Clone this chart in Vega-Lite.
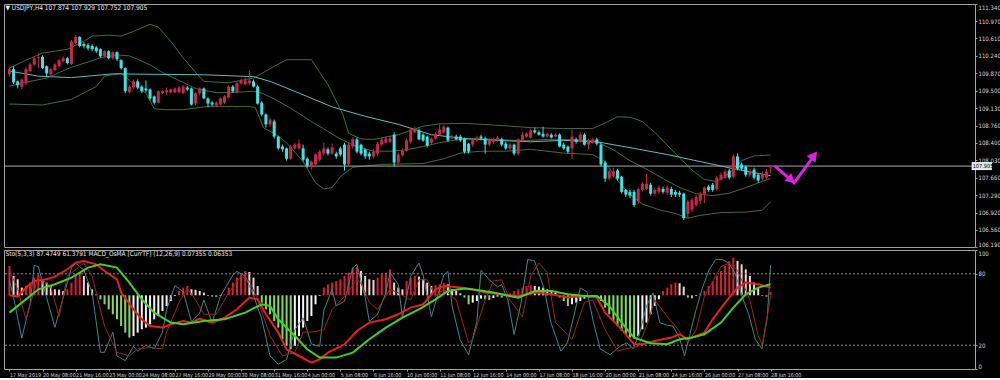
{
"$schema": "https://vega.github.io/schema/vega-lite/v6.json",
"background": "#000000",
"padding": {"left": 3, "top": 3, "right": 0, "bottom": 0},
"spacing": 3,
"bounds": "flush",
"config": {
  "view": {"stroke": "#a0a0a0", "strokeWidth": 1},
  "axis": {"labelColor": "#d8d8d8", "labelFont": "Liberation Sans Narrow, Arial Narrow, DejaVu Sans Condensed, Liberation Sans, sans-serif", "labelFontSize": 6, "tickColor": "#a0a0a0", "tickSize": 2, "domain": false, "grid": false, "labelPadding": 1, "labelOverlap": false},
  "title": {"color": "#e8e8e8", "font": "Liberation Sans Narrow, Arial Narrow, DejaVu Sans Condensed, Liberation Sans, sans-serif", "fontSize": 6.5, "fontWeight": "normal", "anchor": "start"}
},
"datasets": {
  "candles": [
    {"i":0,"o":109.85,"h":110.00,"l":109.80,"c":109.96},{"i":1,"o":109.96,"h":110.02,"l":109.64,"c":109.68},{"i":2,"o":109.70,"h":109.72,"l":109.55,"c":109.62},{"i":3,"o":109.58,"h":109.76,"l":109.54,"c":109.74},{"i":4,"o":109.66,"h":110.00,"l":109.62,"c":109.96},{"i":5,"o":109.92,"h":110.09,"l":109.90,"c":110.06},{"i":6,"o":110.06,"h":110.22,"l":110.03,"c":110.19},{"i":7,"o":110.20,"h":110.30,"l":109.98,"c":110.22},{"i":8,"o":110.22,"h":110.25,"l":109.96,"c":109.98},{"i":9,"o":110.02,"h":110.04,"l":109.81,"c":109.87},
    {"i":10,"o":109.85,"h":109.98,"l":109.80,"c":109.96},{"i":11,"o":109.94,"h":110.08,"l":109.92,"c":110.06},{"i":12,"o":110.02,"h":110.17,"l":110.00,"c":110.15},{"i":13,"o":110.13,"h":110.23,"l":110.10,"c":110.19},{"i":14,"o":110.19,"h":110.22,"l":110.06,"c":110.09},{"i":15,"o":110.07,"h":110.58,"l":110.05,"c":110.55},{"i":16,"o":110.51,"h":110.68,"l":110.49,"c":110.64},{"i":17,"o":110.64,"h":110.66,"l":110.42,"c":110.45},{"i":18,"o":110.49,"h":110.53,"l":110.40,"c":110.45},{"i":19,"o":110.47,"h":110.51,"l":110.36,"c":110.40},
    {"i":20,"o":110.45,"h":110.49,"l":110.34,"c":110.38},{"i":21,"o":110.42,"h":110.45,"l":110.30,"c":110.34},{"i":22,"o":110.38,"h":110.40,"l":110.20,"c":110.23},{"i":23,"o":110.23,"h":110.36,"l":110.21,"c":110.34},{"i":24,"o":110.34,"h":110.36,"l":110.17,"c":110.19},{"i":25,"o":110.19,"h":110.34,"l":110.16,"c":110.32},{"i":26,"o":110.32,"h":110.34,"l":110.13,"c":110.17},{"i":27,"o":110.15,"h":110.17,"l":109.95,"c":109.98},{"i":28,"o":109.98,"h":110.00,"l":109.45,"c":109.49},{"i":29,"o":109.47,"h":109.62,"l":109.44,"c":109.59},
    {"i":30,"o":109.57,"h":109.74,"l":109.54,"c":109.70},{"i":31,"o":109.70,"h":109.74,"l":109.53,"c":109.57},{"i":32,"o":109.59,"h":109.62,"l":109.45,"c":109.49},{"i":33,"o":109.55,"h":109.72,"l":109.47,"c":109.51},{"i":34,"o":109.53,"h":109.55,"l":109.30,"c":109.34},{"i":35,"o":109.38,"h":109.40,"l":109.21,"c":109.25},{"i":36,"o":109.25,"h":109.51,"l":109.23,"c":109.49},{"i":37,"o":109.45,"h":109.51,"l":109.43,"c":109.49},{"i":38,"o":109.47,"h":109.57,"l":109.42,"c":109.51},{"i":39,"o":109.47,"h":109.55,"l":109.44,"c":109.53},
    {"i":40,"o":109.47,"h":109.57,"l":109.45,"c":109.55},{"i":41,"o":109.47,"h":109.60,"l":109.45,"c":109.57},{"i":42,"o":109.45,"h":109.62,"l":109.43,"c":109.59},{"i":43,"o":109.57,"h":109.60,"l":109.50,"c":109.53},{"i":44,"o":109.55,"h":109.57,"l":109.19,"c":109.21},{"i":45,"o":109.23,"h":109.47,"l":109.19,"c":109.45},{"i":46,"o":109.45,"h":109.57,"l":109.40,"c":109.55},{"i":47,"o":109.55,"h":109.57,"l":109.32,"c":109.34},{"i":48,"o":109.34,"h":109.36,"l":109.15,"c":109.23},{"i":49,"o":109.25,"h":109.28,"l":109.17,"c":109.21},
    {"i":50,"o":109.19,"h":109.28,"l":109.15,"c":109.25},{"i":51,"o":109.21,"h":109.36,"l":109.19,"c":109.34},{"i":52,"o":109.25,"h":109.41,"l":109.22,"c":109.38},{"i":53,"o":109.36,"h":109.62,"l":109.34,"c":109.59},{"i":54,"o":109.59,"h":109.62,"l":109.46,"c":109.49},{"i":55,"o":109.47,"h":109.70,"l":109.45,"c":109.66},{"i":56,"o":109.66,"h":109.76,"l":109.63,"c":109.72},{"i":57,"o":109.64,"h":109.78,"l":109.62,"c":109.72},{"i":58,"o":109.66,"h":109.94,"l":109.62,"c":109.72},{"i":59,"o":109.70,"h":109.74,"l":109.57,"c":109.59},
    {"i":60,"o":109.59,"h":109.62,"l":109.21,"c":109.23},{"i":61,"o":109.25,"h":109.28,"l":108.96,"c":109.00},{"i":62,"o":109.00,"h":109.02,"l":108.72,"c":108.79},{"i":63,"o":108.79,"h":108.92,"l":108.74,"c":108.89},{"i":64,"o":108.85,"h":108.89,"l":108.49,"c":108.53},{"i":65,"o":108.53,"h":108.55,"l":108.25,"c":108.28},{"i":66,"o":108.32,"h":108.36,"l":108.21,"c":108.26},{"i":67,"o":108.28,"h":108.30,"l":108.02,"c":108.06},{"i":68,"o":108.06,"h":108.36,"l":108.04,"c":108.32},{"i":69,"o":108.28,"h":108.40,"l":108.26,"c":108.36},
    {"i":70,"o":108.28,"h":108.47,"l":108.25,"c":108.38},{"i":71,"o":108.28,"h":108.36,"l":108.00,"c":108.04},{"i":72,"o":108.06,"h":108.09,"l":107.87,"c":107.91},{"i":73,"o":107.89,"h":108.02,"l":107.83,"c":108.00},{"i":74,"o":107.94,"h":108.17,"l":107.90,"c":108.15},{"i":75,"o":108.04,"h":108.25,"l":108.00,"c":108.21},{"i":76,"o":108.17,"h":108.40,"l":108.13,"c":108.28},{"i":77,"o":108.26,"h":108.30,"l":108.13,"c":108.17},{"i":78,"o":108.17,"h":108.38,"l":108.15,"c":108.30},{"i":79,"o":108.17,"h":108.21,"l":108.06,"c":108.11},
    {"i":80,"o":108.28,"h":108.32,"l":108.11,"c":108.15},{"i":81,"o":108.36,"h":108.40,"l":107.81,"c":107.94},{"i":82,"o":107.94,"h":108.40,"l":107.90,"c":108.36},{"i":83,"o":108.32,"h":108.51,"l":108.28,"c":108.47},{"i":84,"o":108.47,"h":108.51,"l":108.17,"c":108.21},{"i":85,"o":108.36,"h":108.38,"l":108.13,"c":108.17},{"i":86,"o":108.26,"h":108.28,"l":108.06,"c":108.11},{"i":87,"o":108.17,"h":108.21,"l":108.04,"c":108.11},{"i":88,"o":108.11,"h":108.26,"l":108.06,"c":108.21},{"i":89,"o":108.17,"h":108.42,"l":108.13,"c":108.38},
    {"i":90,"o":108.36,"h":108.51,"l":108.32,"c":108.47},{"i":91,"o":108.40,"h":108.53,"l":108.38,"c":108.49},{"i":92,"o":108.42,"h":108.55,"l":108.40,"c":108.49},{"i":93,"o":108.57,"h":108.62,"l":107.90,"c":107.98},{"i":94,"o":107.98,"h":108.19,"l":107.94,"c":108.15},{"i":95,"o":108.13,"h":108.28,"l":108.11,"c":108.23},{"i":96,"o":108.23,"h":108.49,"l":108.21,"c":108.45},{"i":97,"o":108.42,"h":108.72,"l":108.38,"c":108.68},{"i":98,"o":108.62,"h":108.74,"l":108.60,"c":108.68},{"i":99,"o":108.66,"h":108.70,"l":108.45,"c":108.47},
    {"i":100,"o":108.57,"h":108.60,"l":108.42,"c":108.45},{"i":101,"o":108.53,"h":108.55,"l":108.30,"c":108.34},{"i":102,"o":108.40,"h":108.51,"l":108.36,"c":108.49},{"i":103,"o":108.49,"h":108.62,"l":108.47,"c":108.59},{"i":104,"o":108.57,"h":108.79,"l":108.55,"c":108.68},{"i":105,"o":108.62,"h":108.77,"l":108.60,"c":108.74},{"i":106,"o":108.72,"h":108.74,"l":108.42,"c":108.45},{"i":107,"o":108.49,"h":108.57,"l":108.47,"c":108.53},{"i":108,"o":108.53,"h":108.57,"l":108.45,"c":108.47},{"i":109,"o":108.53,"h":108.57,"l":108.42,"c":108.45},
    {"i":110,"o":108.49,"h":108.51,"l":108.17,"c":108.21},{"i":111,"o":108.38,"h":108.40,"l":108.17,"c":108.21},{"i":112,"o":108.36,"h":108.49,"l":108.32,"c":108.47},{"i":113,"o":108.45,"h":108.55,"l":108.42,"c":108.51},{"i":114,"o":108.53,"h":108.57,"l":108.45,"c":108.49},{"i":115,"o":108.49,"h":108.53,"l":108.17,"c":108.36},{"i":116,"o":108.36,"h":108.49,"l":108.32,"c":108.47},{"i":117,"o":108.42,"h":108.51,"l":108.38,"c":108.47},{"i":118,"o":108.45,"h":108.55,"l":108.42,"c":108.51},{"i":119,"o":108.47,"h":108.51,"l":108.32,"c":108.36},
    {"i":120,"o":108.38,"h":108.42,"l":108.25,"c":108.28},{"i":121,"o":108.28,"h":108.40,"l":108.25,"c":108.36},{"i":122,"o":108.36,"h":108.38,"l":108.13,"c":108.17},{"i":123,"o":108.17,"h":108.49,"l":108.13,"c":108.47},{"i":124,"o":108.45,"h":108.62,"l":108.42,"c":108.57},{"i":125,"o":108.53,"h":108.62,"l":108.51,"c":108.59},{"i":126,"o":108.51,"h":108.70,"l":108.49,"c":108.66},{"i":127,"o":108.66,"h":108.72,"l":108.59,"c":108.62},{"i":128,"o":108.62,"h":108.66,"l":108.55,"c":108.57},{"i":129,"o":108.59,"h":108.74,"l":108.51,"c":108.53},
    {"i":130,"o":108.53,"h":108.62,"l":108.51,"c":108.59},{"i":131,"o":108.57,"h":108.60,"l":108.49,"c":108.51},{"i":132,"o":108.53,"h":108.60,"l":108.51,"c":108.57},{"i":133,"o":108.57,"h":108.60,"l":108.30,"c":108.32},{"i":134,"o":108.36,"h":108.40,"l":108.25,"c":108.28},{"i":135,"o":108.32,"h":108.34,"l":108.17,"c":108.21},{"i":136,"o":108.28,"h":108.68,"l":108.06,"c":108.53},{"i":137,"o":108.47,"h":108.51,"l":108.38,"c":108.42},{"i":138,"o":108.42,"h":108.62,"l":108.40,"c":108.57},{"i":139,"o":108.57,"h":108.60,"l":108.34,"c":108.36},
    {"i":140,"o":108.36,"h":108.49,"l":108.26,"c":108.45},{"i":141,"o":108.40,"h":108.51,"l":108.38,"c":108.47},{"i":142,"o":108.47,"h":108.51,"l":108.34,"c":108.38},{"i":143,"o":108.36,"h":108.40,"l":107.90,"c":107.94},{"i":144,"o":107.98,"h":108.02,"l":107.57,"c":107.64},{"i":145,"o":107.64,"h":107.83,"l":107.60,"c":107.79},{"i":146,"o":107.70,"h":107.87,"l":107.66,"c":107.79},{"i":147,"o":107.81,"h":107.85,"l":107.60,"c":107.64},{"i":148,"o":107.68,"h":107.70,"l":107.32,"c":107.36},{"i":149,"o":107.40,"h":107.42,"l":107.25,"c":107.30},
    {"i":150,"o":107.36,"h":107.40,"l":107.23,"c":107.28},{"i":151,"o":107.36,"h":107.40,"l":107.04,"c":107.08},{"i":152,"o":107.15,"h":107.45,"l":107.10,"c":107.42},{"i":153,"o":107.40,"h":107.57,"l":107.36,"c":107.53},{"i":154,"o":107.42,"h":107.74,"l":107.40,"c":107.53},{"i":155,"o":107.51,"h":107.55,"l":107.28,"c":107.32},{"i":156,"o":107.32,"h":107.45,"l":107.28,"c":107.40},{"i":157,"o":107.36,"h":107.49,"l":107.32,"c":107.45},{"i":158,"o":107.42,"h":107.47,"l":107.32,"c":107.36},{"i":159,"o":107.34,"h":107.49,"l":107.30,"c":107.45},
    {"i":160,"o":107.42,"h":107.47,"l":107.25,"c":107.30},{"i":161,"o":107.36,"h":107.40,"l":107.25,"c":107.30},{"i":162,"o":107.34,"h":107.38,"l":107.25,"c":107.30},{"i":163,"o":107.32,"h":107.34,"l":106.76,"c":106.80},{"i":164,"o":106.89,"h":107.19,"l":106.80,"c":107.15},{"i":165,"o":106.98,"h":107.23,"l":106.93,"c":107.19},{"i":166,"o":107.08,"h":107.30,"l":107.04,"c":107.25},{"i":167,"o":107.17,"h":107.36,"l":107.10,"c":107.32},{"i":168,"o":107.30,"h":107.47,"l":107.12,"c":107.45},{"i":169,"o":107.47,"h":107.51,"l":107.36,"c":107.40},
    {"i":170,"o":107.51,"h":107.55,"l":107.36,"c":107.40},{"i":171,"o":107.42,"h":107.70,"l":107.38,"c":107.66},{"i":172,"o":107.62,"h":107.77,"l":107.60,"c":107.72},{"i":173,"o":107.66,"h":107.83,"l":107.64,"c":107.79},{"i":174,"o":107.81,"h":107.85,"l":107.62,"c":107.66},{"i":175,"o":107.68,"h":108.15,"l":107.64,"c":108.11},{"i":176,"o":108.11,"h":108.17,"l":107.81,"c":107.85},{"i":177,"o":107.94,"h":107.98,"l":107.81,"c":107.85},{"i":178,"o":107.89,"h":107.92,"l":107.68,"c":107.72},{"i":179,"o":107.72,"h":107.83,"l":107.68,"c":107.79},
    {"i":180,"o":107.83,"h":107.87,"l":107.62,"c":107.66},{"i":181,"o":107.72,"h":107.74,"l":107.55,"c":107.60},{"i":182,"o":107.64,"h":107.79,"l":107.60,"c":107.74},{"i":183,"o":107.66,"h":107.85,"l":107.62,"c":107.79},{"i":184,"o":107.874,"h":107.929,"l":107.752,"c":107.905}
  ],
  "bands": [
    {"b":"up","i":0,"v":109.98},{"b":"up","i":4,"v":110.15},{"b":"up","i":8,"v":110.30},{"b":"up","i":14,"v":110.38},{"b":"up","i":18,"v":110.55},{"b":"up","i":20,"v":110.66},{"b":"up","i":24,"v":110.68},{"b":"up","i":27,"v":110.66},{"b":"up","i":30,"v":110.76},{"b":"up","i":34,"v":110.91},{"b":"up","i":36,"v":110.85},{"b":"up","i":39,"v":110.55},{"b":"up","i":42,"v":110.20},{"b":"up","i":45.5,"v":109.84},{"b":"up","i":47,"v":109.70},{"b":"up","i":53,"v":109.67},{"b":"up","i":59,"v":109.77},{"b":"up","i":64,"v":110.02},{"b":"up","i":67,"v":110.16},{"b":"up","i":73,"v":110.16},{"b":"up","i":77,"v":109.63},{"b":"up","i":80.6,"v":109.00},{"b":"up","i":82,"v":108.60},{"b":"up","i":85,"v":108.48},{"b":"up","i":88,"v":108.47},{"b":"up","i":94,"v":108.57},{"b":"up","i":100,"v":108.75},{"b":"up","i":104,"v":108.80},{"b":"up","i":110,"v":108.81},{"b":"up","i":118,"v":108.77},{"b":"up","i":126,"v":108.72},{"b":"up","i":134,"v":108.70},{"b":"up","i":141,"v":108.70},{"b":"up","i":144,"v":108.82},{"b":"up","i":147,"v":108.95},{"b":"up","i":150,"v":108.94},{"b":"up","i":153,"v":108.85},{"b":"up","i":156,"v":108.62},{"b":"up","i":159,"v":108.35},{"b":"up","i":162,"v":108.08},{"b":"up","i":165,"v":107.82},{"b":"up","i":168,"v":107.62},{"b":"up","i":171,"v":107.58},{"b":"up","i":174,"v":107.75},{"b":"up","i":177,"v":108.02},{"b":"up","i":180,"v":108.12},{"b":"up","i":184,"v":108.14},
    {"b":"mid","i":0,"v":109.60},{"b":"mid","i":5,"v":109.70},{"b":"mid","i":9,"v":109.77},{"b":"mid","i":15,"v":110.00},{"b":"mid","i":19,"v":110.11},{"b":"mid","i":22,"v":110.20},{"b":"mid","i":26,"v":110.26},{"b":"mid","i":29,"v":110.24},{"b":"mid","i":31,"v":110.17},{"b":"mid","i":34,"v":110.05},{"b":"mid","i":37,"v":109.89},{"b":"mid","i":41,"v":109.72},{"b":"mid","i":45,"v":109.55},{"b":"mid","i":50,"v":109.46},{"b":"mid","i":55,"v":109.47},{"b":"mid","i":59,"v":109.49},{"b":"mid","i":61,"v":109.45},{"b":"mid","i":64,"v":109.33},{"b":"mid","i":68,"v":109.13},{"b":"mid","i":73,"v":108.85},{"b":"mid","i":77,"v":108.64},{"b":"mid","i":80,"v":108.48},{"b":"mid","i":84,"v":108.32},{"b":"mid","i":88,"v":108.22},{"b":"mid","i":92,"v":108.22},{"b":"mid","i":96,"v":108.25},{"b":"mid","i":100,"v":108.32},{"b":"mid","i":104,"v":108.40},{"b":"mid","i":108,"v":108.46},{"b":"mid","i":112,"v":108.48},{"b":"mid","i":118,"v":108.47},{"b":"mid","i":124,"v":108.44},{"b":"mid","i":130,"v":108.47},{"b":"mid","i":136,"v":108.47},{"b":"mid","i":142,"v":108.42},{"b":"mid","i":146,"v":108.25},{"b":"mid","i":150,"v":108.02},{"b":"mid","i":154,"v":107.84},{"b":"mid","i":158,"v":107.64},{"b":"mid","i":162,"v":107.45},{"b":"mid","i":166,"v":107.32},{"b":"mid","i":170,"v":107.28},{"b":"mid","i":174,"v":107.33},{"b":"mid","i":178,"v":107.45},{"b":"mid","i":182,"v":107.58},{"b":"mid","i":184,"v":107.64},
    {"b":"lo","i":0,"v":109.22},{"b":"lo","i":8,"v":109.20},{"b":"lo","i":15,"v":109.32},{"b":"lo","i":21,"v":109.59},{"b":"lo","i":23,"v":109.81},{"b":"lo","i":27,"v":109.87},{"b":"lo","i":28,"v":109.80},{"b":"lo","i":30,"v":109.65},{"b":"lo","i":33,"v":109.45},{"b":"lo","i":35,"v":109.12},{"b":"lo","i":37.6,"v":109.10},{"b":"lo","i":42,"v":109.10},{"b":"lo","i":48,"v":109.17},{"b":"lo","i":57,"v":109.17},{"b":"lo","i":59.4,"v":109.15},{"b":"lo","i":61.5,"v":108.71},{"b":"lo","i":64,"v":108.60},{"b":"lo","i":67,"v":108.40},{"b":"lo","i":71,"v":108.00},{"b":"lo","i":74,"v":107.55},{"b":"lo","i":76,"v":107.42},{"b":"lo","i":78,"v":107.45},{"b":"lo","i":80,"v":107.68},{"b":"lo","i":83,"v":107.88},{"b":"lo","i":90,"v":107.94},{"b":"lo","i":100,"v":107.96},{"b":"lo","i":105,"v":108.06},{"b":"lo","i":109,"v":108.18},{"b":"lo","i":114,"v":108.22},{"b":"lo","i":120,"v":108.22},{"b":"lo","i":126,"v":108.26},{"b":"lo","i":134,"v":108.18},{"b":"lo","i":141,"v":108.15},{"b":"lo","i":144,"v":108.00},{"b":"lo","i":147,"v":107.60},{"b":"lo","i":150,"v":107.30},{"b":"lo","i":153,"v":107.10},{"b":"lo","i":157,"v":106.98},{"b":"lo","i":161,"v":106.90},{"b":"lo","i":164,"v":106.80},{"b":"lo","i":167,"v":106.86},{"b":"lo","i":172,"v":106.92},{"b":"lo","i":178,"v":106.93},{"b":"lo","i":182,"v":106.97},{"b":"lo","i":184,"v":107.15}
  ],
  "ma": [
    {"i":0,"v":109.92},{"i":7,"v":109.81},{"i":15,"v":109.78},{"i":25,"v":109.86},{"i":35,"v":109.85},{"i":47,"v":109.84},{"i":59,"v":109.80},{"i":63,"v":109.70},{"i":67,"v":109.56},{"i":72,"v":109.38},{"i":78,"v":109.16},{"i":86,"v":108.96},{"i":94,"v":108.79},{"i":98,"v":108.68},{"i":102,"v":108.57},{"i":110,"v":108.49},{"i":118,"v":108.45},{"i":126,"v":108.42},{"i":134,"v":108.45},{"i":142,"v":108.42},{"i":151,"v":108.28},{"i":159,"v":108.15},{"i":167,"v":108.00},{"i":175,"v":107.85},{"i":184,"v":107.70}
  ],
  "arrow": [
    {"i":185,"p":107.91},{"i":189.7,"p":107.55},{"i":194.7,"p":108.15}
  ],
  "hist": [
    {"i":0,"v":0.293},{"i":1,"v":0.193},{"i":2,"v":0.16},{"i":3,"v":0.077},{"i":4,"v":0.093},{"i":5,"v":0.127},{"i":6,"v":0.177},{"i":7,"v":0.21},{"i":8,"v":0.16},{"i":9,"v":0.127},
    {"i":10,"v":0.093},{"i":11,"v":0.06},{"i":12,"v":0.057},{"i":13,"v":0.043},{"i":14,"v":0.06},{"i":15,"v":0.127},{"i":16,"v":0.193},{"i":17,"v":0.227},{"i":18,"v":0.193},{"i":19,"v":0.127},
    {"i":20,"v":0.06},{"i":21,"v":0.01},{"i":22,"v":-0.04},{"i":23,"v":-0.09},{"i":24,"v":-0.14},{"i":25,"v":-0.19},{"i":26,"v":-0.24},{"i":27,"v":-0.307},{"i":28,"v":-0.373},{"i":29,"v":-0.423},
    {"i":30,"v":-0.407},{"i":31,"v":-0.373},{"i":32,"v":-0.34},{"i":33,"v":-0.323},{"i":34,"v":-0.29},{"i":35,"v":-0.24},{"i":36,"v":-0.207},{"i":37,"v":-0.157},{"i":38,"v":-0.107},{"i":39,"v":-0.057},
    {"i":40,"v":-0.007},{"i":41,"v":0.043},{"i":42,"v":0.077},{"i":43,"v":0.093},{"i":44,"v":0.06},{"i":45,"v":0.055},{"i":46,"v":0.043},{"i":47,"v":0.027},{"i":48,"v":-0.007},{"i":49,"v":-0.013},
    {"i":50,"v":-0.015},{"i":51,"v":-0.007},{"i":52,"v":0.01},{"i":53,"v":0.077},{"i":54,"v":0.127},{"i":55,"v":0.177},{"i":56,"v":0.21},{"i":57,"v":0.243},{"i":58,"v":0.233},{"i":59,"v":0.177},
    {"i":60,"v":0.093},{"i":61,"v":-0.073},{"i":62,"v":-0.14},{"i":63,"v":-0.19},{"i":64,"v":-0.257},{"i":65,"v":-0.323},{"i":66,"v":-0.44},{"i":67,"v":-0.507},{"i":68,"v":-0.54},{"i":69,"v":-0.507},
    {"i":70,"v":-0.407},{"i":71,"v":-0.323},{"i":72,"v":-0.257},{"i":73,"v":-0.207},{"i":74,"v":-0.09},{"i":75,"v":-0.007},{"i":76,"v":0.077},{"i":77,"v":0.11},{"i":78,"v":0.127},{"i":79,"v":0.143},
    {"i":80,"v":0.16},{"i":81,"v":0.193},{"i":82,"v":0.227},{"i":83,"v":0.277},{"i":84,"v":0.283},{"i":85,"v":0.243},{"i":86,"v":0.193},{"i":87,"v":0.16},{"i":88,"v":0.153},{"i":89,"v":0.177},
    {"i":90,"v":0.21},{"i":91,"v":0.227},{"i":92,"v":0.26},{"i":93,"v":0.127},{"i":94,"v":0.077},{"i":95,"v":0.06},{"i":96,"v":0.143},{"i":97,"v":0.177},{"i":98,"v":0.193},{"i":99,"v":0.187},
    {"i":100,"v":0.16},{"i":101,"v":0.127},{"i":102,"v":0.093},{"i":103,"v":0.1},{"i":104,"v":0.11},{"i":105,"v":0.127},{"i":106,"v":0.11},{"i":107,"v":0.06},{"i":108,"v":0.043},{"i":109,"v":0.02},
    {"i":110,"v":-0.023},{"i":111,"v":-0.09},{"i":112,"v":-0.073},{"i":113,"v":-0.057},{"i":114,"v":-0.033},{"i":115,"v":-0.04},{"i":116,"v":-0.047},{"i":117,"v":-0.027},{"i":118,"v":-0.013},{"i":119,"v":-0.023},
    {"i":120,"v":-0.007},{"i":121,"v":0.02},{"i":122,"v":0.043},{"i":123,"v":0.06},{"i":124,"v":0.077},{"i":125,"v":0.093},{"i":126,"v":0.1},{"i":127,"v":0.093},{"i":128,"v":0.087},{"i":129,"v":0.077},
    {"i":130,"v":0.06},{"i":131,"v":0.043},{"i":132,"v":0.027},{"i":133,"v":-0.023},{"i":134,"v":-0.057},{"i":135,"v":-0.107},{"i":136,"v":-0.09},{"i":137,"v":-0.073},{"i":138,"v":-0.057},{"i":139,"v":-0.033},
    {"i":140,"v":-0.023},{"i":141,"v":-0.013},{"i":142,"v":-0.023},{"i":143,"v":-0.057},{"i":144,"v":-0.123},{"i":145,"v":-0.19},{"i":146,"v":-0.257},{"i":147,"v":-0.307},{"i":148,"v":-0.357},{"i":149,"v":-0.39},
    {"i":150,"v":-0.423},{"i":151,"v":-0.433},{"i":152,"v":-0.407},{"i":153,"v":-0.34},{"i":154,"v":-0.273},{"i":155,"v":-0.19},{"i":156,"v":-0.107},{"i":157,"v":-0.04},{"i":158,"v":0.043},{"i":159,"v":0.077},
    {"i":160,"v":0.11},{"i":161,"v":0.127},{"i":162,"v":0.12},{"i":163,"v":0.087},{"i":164,"v":-0.023},{"i":165,"v":-0.03},{"i":166,"v":-0.007},{"i":167,"v":0.02},{"i":168,"v":0.043},{"i":169,"v":0.093},
    {"i":170,"v":0.143},{"i":171,"v":0.193},{"i":172,"v":0.243},{"i":173,"v":0.293},{"i":174,"v":0.343},{"i":175,"v":0.377},{"i":176,"v":0.343},{"i":177,"v":0.31},{"i":178,"v":0.26},{"i":179,"v":0.193},
    {"i":180,"v":0.127},{"i":181,"v":0.077},{"i":182,"v":-0.007},{"i":183,"v":-0.013},{"i":184,"v":0.033}
  ],
  "macd": [
    {"i":0,"v":0},{"i":2,"v":-0.013},{"i":4,"v":0.077},{"i":6,"v":0.143},{"i":9,"v":0.16},{"i":11,"v":0.187},{"i":14,"v":0.26},{"i":16,"v":0.327},{"i":18,"v":0.343},{"i":21,"v":0.31},{"i":23,"v":0.243},{"i":26,"v":0.16},{"i":27,"v":0.027},{"i":30,"v":-0.14},{"i":32,"v":-0.24},{"i":34,"v":-0.307},{"i":37,"v":-0.323},{"i":39,"v":-0.29},{"i":42,"v":-0.257},{"i":44,"v":-0.273},{"i":46,"v":-0.233},{"i":49,"v":-0.273},{"i":52,"v":-0.223},{"i":55,"v":-0.14},{"i":58,"v":-0.023},{"i":60,"v":-0.04},{"i":62,"v":-0.19},{"i":65,"v":-0.373},{"i":67,"v":-0.54},{"i":70,"v":-0.607},{"i":73,"v":-0.673},{"i":75,"v":-0.64},{"i":77,"v":-0.573},{"i":81,"v":-0.49},{"i":84,"v":-0.357},{"i":87,"v":-0.273},{"i":91,"v":-0.24},{"i":94,"v":-0.19},{"i":97,"v":-0.123},{"i":100,"v":-0.09},{"i":103,"v":0.06},{"i":105,"v":0.093},{"i":109,"v":0.077},{"i":112,"v":0.06},{"i":115,"v":0.027},{"i":119,"v":0.01},{"i":123,"v":-0.007},{"i":127,"v":0.027},{"i":131,"v":0.01},{"i":135,"v":-0.023},{"i":139,"v":-0.007},{"i":142,"v":-0.023},{"i":144,"v":-0.173},{"i":148,"v":-0.34},{"i":151,"v":-0.49},{"i":153,"v":-0.49},{"i":156,"v":-0.457},{"i":160,"v":-0.423},{"i":162,"v":-0.39},{"i":164,"v":-0.44},{"i":165,"v":-0.423},{"i":168,"v":-0.373},{"i":170,"v":-0.24},{"i":173,"v":-0.073},{"i":176,"v":0.077},{"i":178,"v":0.127},{"i":181,"v":0.11},{"i":184,"v":0.077}
  ],
  "signal": [
    {"i":0,"v":-0.173},{"i":3,"v":-0.073},{"i":7,"v":0.06},{"i":11,"v":0.11},{"i":15,"v":0.177},{"i":19,"v":0.277},{"i":22,"v":0.31},{"i":26,"v":0.277},{"i":29,"v":0.127},{"i":32,"v":-0.04},{"i":35,"v":-0.173},{"i":39,"v":-0.273},{"i":42,"v":-0.29},{"i":47,"v":-0.257},{"i":52,"v":-0.24},{"i":57,"v":-0.173},{"i":61,"v":-0.09},{"i":63,"v":-0.107},{"i":65,"v":-0.24},{"i":69,"v":-0.407},{"i":72,"v":-0.54},{"i":75,"v":-0.623},{"i":79,"v":-0.623},{"i":83,"v":-0.573},{"i":87,"v":-0.44},{"i":91,"v":-0.323},{"i":95,"v":-0.223},{"i":99,"v":-0.14},{"i":103,"v":-0.04},{"i":106,"v":0.043},{"i":110,"v":0.067},{"i":113,"v":0.053},{"i":117,"v":0.027},{"i":120,"v":0},{"i":123,"v":-0.023},{"i":127,"v":0.043},{"i":131,"v":0.043},{"i":135,"v":0.01},{"i":139,"v":-0.007},{"i":142,"v":-0.007},{"i":145,"v":-0.107},{"i":148,"v":-0.273},{"i":151,"v":-0.423},{"i":155,"v":-0.48},{"i":159,"v":-0.49},{"i":162,"v":-0.44},{"i":165,"v":-0.423},{"i":168,"v":-0.39},{"i":172,"v":-0.273},{"i":175,"v":-0.123},{"i":178,"v":0.01},{"i":181,"v":0.077},{"i":184,"v":0.11}
  ],
  "stk": [
    {"i":0,"v":75},{"i":1,"v":60},{"i":3,"v":26},{"i":5,"v":55},{"i":6,"v":87},{"i":7,"v":86},{"i":9,"v":60},{"i":11,"v":35},{"i":13,"v":60},{"i":15,"v":85},{"i":16,"v":89},{"i":18,"v":83},{"i":20,"v":64},{"i":22,"v":14},{"i":23,"v":14},{"i":25,"v":31},{"i":26,"v":11},{"i":28,"v":7},{"i":30,"v":19},{"i":31,"v":15},{"i":33,"v":20},{"i":35,"v":17},{"i":37,"v":31},{"i":38,"v":50},{"i":40,"v":70},{"i":42,"v":65},{"i":44,"v":40},{"i":46,"v":47},{"i":47,"v":58},{"i":49,"v":39},{"i":51,"v":61},{"i":54,"v":79},{"i":55,"v":82},{"i":57,"v":78},{"i":59,"v":62},{"i":61,"v":42},{"i":63,"v":11},{"i":65,"v":4},{"i":67,"v":8},{"i":69,"v":33},{"i":71,"v":43},{"i":73,"v":21},{"i":75,"v":19},{"i":76,"v":49},{"i":78,"v":67},{"i":79,"v":53},{"i":81,"v":57},{"i":83,"v":85},{"i":84,"v":88},{"i":86,"v":60},{"i":87,"v":40},{"i":89,"v":46},{"i":91,"v":64},{"i":92,"v":81},{"i":94,"v":71},{"i":95,"v":43},{"i":97,"v":78},{"i":99,"v":89},{"i":100,"v":79},{"i":102,"v":44},{"i":105,"v":79},{"i":106,"v":82},{"i":107,"v":53},{"i":109,"v":24},{"i":111,"v":12},{"i":113,"v":40},{"i":114,"v":83},{"i":116,"v":75},{"i":118,"v":69},{"i":119,"v":71},{"i":120.5,"v":58},{"i":122,"v":29},{"i":123.7,"v":56},{"i":125.3,"v":92},{"i":126.9,"v":91},{"i":129.3,"v":67},{"i":130.9,"v":39},{"i":133.3,"v":15},{"i":134.9,"v":22},{"i":136.4,"v":44},{"i":138,"v":68},{"i":139.6,"v":65},{"i":141.2,"v":39},{"i":142.8,"v":17},{"i":145.2,"v":12},{"i":147.6,"v":19},{"i":149.2,"v":22},{"i":150.8,"v":17},{"i":152.4,"v":31},{"i":154,"v":53},{"i":155.6,"v":64},{"i":157.2,"v":39},{"i":158.8,"v":37},{"i":160.4,"v":36},{"i":162,"v":26},{"i":163.2,"v":11},{"i":164.4,"v":28},{"i":166,"v":50},{"i":167.6,"v":69},{"i":169.1,"v":83},{"i":170.7,"v":92},{"i":172.3,"v":92},{"i":173.9,"v":89},{"i":175.5,"v":80},{"i":177.1,"v":61},{"i":178.7,"v":46},{"i":180.3,"v":25},{"i":181.9,"v":17},{"i":183.2,"v":44},{"i":184,"v":87.47}
  ],
  "std": [
    {"i":0,"v":83},{"i":2,"v":67},{"i":4,"v":42},{"i":7,"v":78},{"i":10,"v":69},{"i":12,"v":44},{"i":14,"v":78},{"i":18,"v":89},{"i":20,"v":78},{"i":23,"v":36},{"i":26,"v":14},{"i":29,"v":11},{"i":31,"v":17},{"i":34,"v":18},{"i":37,"v":17},{"i":38,"v":31},{"i":41,"v":56},{"i":43,"v":68},{"i":45,"v":58},{"i":47,"v":46},{"i":50,"v":46},{"i":53,"v":64},{"i":56,"v":78},{"i":58,"v":74},{"i":60,"v":58},{"i":63,"v":28},{"i":66,"v":11},{"i":69,"v":14},{"i":71,"v":31},{"i":73,"v":31},{"i":76,"v":33},{"i":78,"v":50},{"i":81,"v":61},{"i":84,"v":75},{"i":85,"v":72},{"i":87,"v":56},{"i":89,"v":50},{"i":92,"v":67},{"i":94,"v":64},{"i":97,"v":58},{"i":99,"v":75},{"i":101,"v":75},{"i":103,"v":61},{"i":105,"v":67},{"i":108,"v":58},{"i":111,"v":22},{"i":112,"v":25},{"i":115,"v":58},{"i":117,"v":74},{"i":119,"v":75},{"i":121,"v":58},{"i":124,"v":44},{"i":126,"v":78},{"i":128,"v":89},{"i":130,"v":81},{"i":132,"v":39},{"i":136,"v":25},{"i":139,"v":56},{"i":141,"v":58},{"i":144,"v":33},{"i":147,"v":15},{"i":149,"v":17},{"i":152,"v":19},{"i":154,"v":36},{"i":156,"v":58},{"i":159,"v":44},{"i":161,"v":36},{"i":164,"v":22},{"i":166,"v":33},{"i":168,"v":61},{"i":172,"v":86},{"i":174,"v":89},{"i":176,"v":83},{"i":179,"v":58},{"i":181,"v":28},{"i":182,"v":20},{"i":183,"v":40},{"i":184,"v":61.38}
  ]
},
"vconcat": [
  {
    "width": 971,
    "height": 243,
    "title": {"text": "▼ USDJPY,H4  107.874 107.929 107.752 107.905", "offset": -8, "dx": 2},
    "layer": [
      {
        "data": {"name": "bands"},
        "mark": {"type": "line", "color": "#3d6e3a", "strokeWidth": 1},
        "encoding": {
          "x": {"field": "i", "type": "quantitative", "scale": {"domain": [-0.1, 232.2], "nice": false, "zero": false}, "axis": null},
          "y": {"field": "v", "type": "quantitative", "scale": {"domain": [106.19, 111.34], "nice": false, "zero": false}, "title": null,
                "axis": {"orient": "right", "values": [106.19, 106.56, 106.92, 107.29, 107.66, 108.03, 108.4, 108.76, 109.13, 109.5, 109.87, 110.24, 110.61, 110.97, 111.34], "tickCount": 40, "format": ".3f", "title": null, "labelOverlap": false, "labelFlush": true}},
          "detail": {"field": "b", "type": "nominal"}
        }
      },
      {
        "data": {"name": "ma"},
        "mark": {"type": "line", "color": "#56bcc4", "strokeWidth": 1},
        "encoding": {
          "x": {"field": "i", "type": "quantitative", "axis": null},
          "y": {"field": "v", "type": "quantitative", "title": null}
        }
      },
      {
        "data": {"values": [{}]},
        "mark": {"type": "rule", "color": "#a8a8a8", "strokeWidth": 1},
        "encoding": {"y": {"datum": 107.905, "title": null}}
      },
      {
        "data": {"name": "candles"},
        "mark": {"type": "rule", "strokeWidth": 1},
        "encoding": {
          "x": {"field": "i", "type": "quantitative", "axis": null},
          "y": {"field": "l", "type": "quantitative", "title": null},
          "y2": {"field": "h"},
          "color": {"condition": {"test": "datum.c >= datum.o", "value": "#c8284a"}, "value": "#3fe3e3"}
        }
      },
      {
        "data": {"name": "candles"},
        "mark": {"type": "bar", "size": 3},
        "encoding": {
          "x": {"field": "i", "type": "quantitative", "axis": null},
          "y": {"field": "o", "type": "quantitative", "title": null},
          "y2": {"field": "c"},
          "color": {"condition": {"test": "datum.c >= datum.o", "value": "#c8284a"}, "value": "#3fe3e3"}
        }
      },
      {
        "data": {"name": "arrow"},
        "mark": {"type": "line", "color": "#e020e6", "strokeWidth": 3},
        "encoding": {
          "x": {"field": "i", "type": "quantitative", "axis": null},
          "y": {"field": "p", "type": "quantitative", "title": null}
        }
      },
      {
        "data": {"values": [{}]},
        "mark": {"type": "point", "shape": "triangle-up", "filled": true, "color": "#e020e6", "opacity": 1, "size": 110, "angle": 130},
        "encoding": {"x": {"datum": 189.0, "axis": null}, "y": {"datum": 107.61, "title": null}}
      },
      {
        "data": {"values": [{}]},
        "mark": {"type": "point", "shape": "triangle-up", "filled": true, "color": "#e020e6", "opacity": 1, "size": 130, "angle": 37},
        "encoding": {"x": {"datum": 194.5, "axis": null}, "y": {"datum": 108.13, "title": null}}
      },
      {
        "data": {"values": [{}]},
        "mark": {"type": "rect", "color": "#e8e8e8"},
        "encoding": {"x": {"datum": 232.6, "axis": null}, "x2": {"datum": 237.5}, "y": {"datum": 107.99, "title": null}, "y2": {"datum": 107.82}}
      },
      {
        "data": {"values": [{}]},
        "mark": {"type": "text", "color": "#000000", "fontSize": 5.6, "font": "Liberation Sans Narrow, Arial Narrow, DejaVu Sans Condensed, Liberation Sans, sans-serif", "align": "left", "baseline": "middle", "dx": 1},
        "encoding": {"x": {"datum": 232.6, "axis": null}, "y": {"datum": 107.905, "title": null}, "text": {"value": "107.905"}}
      }
    ]
  },
  {
    "width": 971,
    "height": 119,
    "title": {"text": "Sto(5,3,3) 87.4749 61.3791   MACD_OsMA [CurrTF] (12,26,9) 0.07355 0.06353", "offset": -8, "dx": 2},
    "layer": [
      {
        "layer": [
          {
            "data": {"name": "hist"},
            "transform": [{"window": [{"op": "lag", "field": "v", "as": "pv"}], "sort": [{"field": "i"}]}],
            "mark": {"type": "bar", "size": 2},
            "encoding": {
              "x": {"field": "i", "type": "quantitative", "scale": {"domain": [-0.1, 232.2], "nice": false, "zero": false}, "title": null},
              "y": {"field": "v", "type": "quantitative", "scale": {"domain": [-0.737, 0.453], "nice": false, "zero": false}, "axis": null},
              "y2": {"datum": 0},
              "color": {"condition": [
                {"test": "datum.v >= 0 && (datum.pv == null || datum.v >= datum.pv)", "value": "#d42035"},
                {"test": "datum.v >= 0", "value": "#f2d2d2"},
                {"test": "datum.v < datum.pv", "value": "#86d862"}
              ], "value": "#f4f4f4"}
            }
          }
        ]
      },
      {
        "layer": [
          {
            "data": {"values": [{}]},
            "mark": {"type": "rule", "color": "#8a8a8a", "strokeDash": [2, 2], "strokeWidth": 1},
            "encoding": {"y": {"datum": 80, "title": null}}
          },
          {
            "data": {"values": [{}]},
            "mark": {"type": "rule", "color": "#8a8a8a", "strokeDash": [2, 2], "strokeWidth": 1},
            "encoding": {"y": {"datum": 20, "title": null}}
          },
          {
            "data": {"name": "stk"},
            "mark": {"type": "line", "color": "#3f8686", "strokeWidth": 1},
            "encoding": {
              "x": {"field": "i", "type": "quantitative", "scale": {"domain": [-0.1, 232.2], "nice": false, "zero": false}, "title": null,
                    "axis": {"orient": "bottom", "values": [0, 8, 16, 24, 32, 40, 48, 56, 64, 72, 80, 88, 96, 104, 112, 120, 128, 136, 144, 152, 160, 168, 176, 184], "tickCount": 60,
                             "labelExpr": "['17 May 2019','20 May 08:00','21 May 16:00','23 May 00:00','24 May 08:00','27 May 16:00','29 May 00:00','30 May 08:00','31 May 16:00','4 Jun 00:00','5 Jun 08:00','6 Jun 16:00','10 Jun 00:00','11 Jun 08:00','12 Jun 16:00','14 Jun 00:00','17 Jun 08:00','18 Jun 16:00','20 Jun 00:00','21 Jun 08:00','24 Jun 16:00','26 Jun 00:00','27 Jun 08:00','28 Jun 16:00'][datum.value/8]",
                             "labelAlign": "left", "labelFlush": false, "labelOverlap": false, "labelFontSize": 5.3, "labelPadding": 1, "title": null}},
              "y": {"field": "v", "type": "quantitative", "scale": {"domain": [0, 100], "nice": false, "zero": false}, "title": null,
                    "axis": {"orient": "right", "values": [0, 20, 80, 100], "tickCount": 40, "title": null, "labelOverlap": false, "labelFlush": true}}
            }
          },
          {
            "data": {"name": "std"},
            "mark": {"type": "line", "color": "#a02222", "strokeWidth": 1},
            "encoding": {
              "x": {"field": "i", "type": "quantitative", "title": null},
              "y": {"field": "v", "type": "quantitative", "title": null}
            }
          }
        ]
      },
      {
        "layer": [
          {
            "data": {"name": "macd"},
            "mark": {"type": "line", "color": "#e8201c", "strokeWidth": 2},
            "encoding": {
              "x": {"field": "i", "type": "quantitative", "title": null},
              "y": {"field": "v", "type": "quantitative", "scale": {"domain": [-0.737, 0.453], "nice": false, "zero": false}, "axis": null}
            }
          },
          {
            "data": {"name": "signal"},
            "mark": {"type": "line", "color": "#44d022", "strokeWidth": 2},
            "encoding": {
              "x": {"field": "i", "type": "quantitative", "title": null},
              "y": {"field": "v", "type": "quantitative", "axis": null}
            }
          }
        ]
      }
    ],
    "resolve": {"scale": {"y": "independent"}}
  }
]
}
